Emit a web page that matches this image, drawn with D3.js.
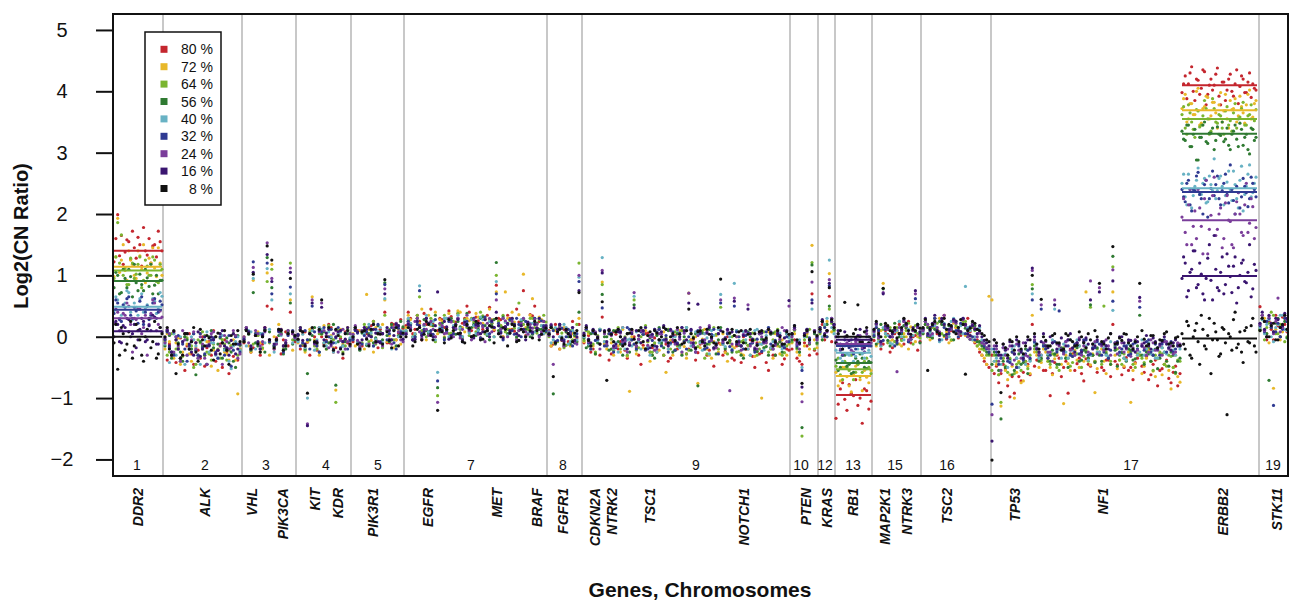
<!DOCTYPE html>
<html lang="en">
<head>
<meta charset="UTF-8">
<title>Log2(CN Ratio) by gene</title>
<script src="https://d3js.org/d3.v7.min.js"></script>
<style>
  body { margin: 0; background: #fff; }
  svg text { font-family: "Liberation Sans", Arial, sans-serif; fill: #111; }
</style>
</head>
<body>
<div id="chart"></div>
<script>

// tumour purity levels (legend order) and their colours
var purity = ["80 %", "72 %", "64 %", "56 %", "40 %", "32 %", "24 %", "16 %", "8 %"];
var colors = ["#c4262e", "#e8b82a", "#7ab530", "#2f7a32", "#68b2c4", "#2f3a92", "#7a3d9a", "#3a1570", "#111111"];

// genome axis, in bin units (0..1175)
var chromNames = ["1", "2", "3", "4", "5", "7", "8", "9", "10", "12", "13", "15", "16", "17", "19"];
var chromLabelPos = [24, 92, 153, 213, 265, 358, 450, 583, 688, 712, 740, 782, 834, 1018, 1160];
var chromBounds = [50, 129, 183, 238, 291, 434, 469, 677, 705, 722, 759, 808, 878, 1146];
var genes = ["DDR2", "ALK", "VHL", "PIK3CA", "KIT", "KDR", "PIK3R1", "EGFR", "MET", "BRAF", "FGFR1", "CDKN2A", "NTRK2",
  "TSC1", "NOTCH1", "PTEN", "KRAS", "RB1", "MAP2K1", "NTRK3", "TSC2", "TP53", "NF1", "ERBB2", "STK11"];
var genePos = [25, 92, 139, 170, 202, 225, 260, 315, 384, 424, 450, 482, 499, 537, 631, 693, 714, 740, 772, 794, 834, 902, 990, 1110, 1164];

// probe blocks: chr1, 2, 3, 4, 5, 7, 8, 9, 10, 12, 13, 15, 16, 17 (to ERBB2), 17 (ERBB2), 19
var blockSpans = [[1, 49], [52, 127], [131, 182], [185, 237], [240, 290], [293, 433], [436, 466], [471, 676],
  [679, 704], [707, 721], [723, 758], [761, 807], [810, 876], [879, 1067], [1069, 1143], [1147, 1174]];

// log2 ratio x100, one sub-array per block, probes evenly spaced inside a block
var p80 = [
  [122, 160, 199, 132, 165, 118, 138, 158, 155, 126, 172, 145, 128, 162, 150, 115, 178, 140, 133, 160, 120, 148, 150, 130, 172, 155, 140],
  [-5, -38, -12, -25, 8, -42, -20, -2, -30, -55, -15, 5, -28, -45, -10, -22, -35, 0, -48, -18, -8, -30, 10, -40, -22, -12, -50, -5, -25, -60, -15, -32, 2, -38, -20],
  [-10, 12, 6, -25, -18, 2, 3, -30, -12, 15, 50, -8, 45, -20, -2, 10, -28, -5, 8, -15, 40, 5, -8],
  [4, -20, -14, 8, -9, -30, 12, 0, -22, 15, 0, -12, -6, 20, 15, -25, -18, 5, -3, -35, 8, -10, -12],
  [-8, 15, 10, -20, -15, 8, 5, -12, 18, 25, -4, -18, 12, 5, 40, -10, -10, 22, 20, -5, 6, 28, 14],
  [18, 40, 30, 5, 12, 35, 25, -5, 38, 20, 8, 45, 20, 0, 10, 30, 28, 15, 15, 42, 33, 5, 24, 38, 5, 22, 30, 50, 40, 10, 18, 32,
    26, -2, 12, 28, 35, 48, 22, 10, 84, 30, 28, 0, 16, 35, 30, 12, 9, 45, 24, 18, 75, 2, 20, 36, 34, 50, 14, 25, 26, 5, 10],
  [10, -15, -12, 20, 5, -20, -6, 12, 14, -8, 0, 25, -10, -2, 20],
  [-10, 12, 2, -25, -20, 5, -5, -30, 32, -12, -15, -38, -28, 8, 4, -20, -8, 15, -22, -35, -12, 10, 0, -18, -30, -45, -14, 5, 6, -25,
    -18, -2, -25, 12, -6, -30, -12, -40, -35, -8, 2, -20, -16, 10, -8, -28, -20, -5, -4, -38, -26, -12, -10, 5, -30, -22, -2, -48, -18, -10,
    -12, -30, -24, 0, -6, -35, -38, -15, -14, -42, 0, -20, -20, -5, -32, -50, -10, -28, -26, -8, -42, -55, -18, -30, -30, -12, -8, -45, -36, -20,
    -22],
  [-20, -5, -35, -40, -45, -10, -15, -30, 70, -22, -28],
  [8, 20, -5, 10, 66, -8, 15],
  [-133, -110, -85, -75, -102, -120, -78, -92, -96, -70, -112, -100, -141, -85, -88, -118, -105],
  [-6, 15, 8, -20, -12, 10, 4, -25, -18, 5, 10, 20, -4, -12, 14, 25, -10, 0, 2, -22, -8],
  [12, 25, 0, 15, 18, 30, 5, -5, 22, 35, -4, 8, 10, 28, 15, -2, 2, 20, 20, 30, 8, 15, -10, -5, -25, -30, -40, -45, -50],
  [-30, -60, -48, -75, -60, -45, -52, -80, -98, -65, -92, -50, -65, -72, -58, -40, -45, -62, 20, -48, -38, -25, -30, -55, -55, -35, -96, -60, -42, -30,
    -35, -65, -50, -40, -92, -20, -28, -55, -44, -35, -60, -72, -36, -45, -48, -30, -40, -58, -25, -50, -55, -38, -38, -65, 20, -40, -46, -28, -62, -50,
    -34, -55, -50, -70, -42, -35, -30, -48, -58, -32, -70, -62, -45, -38, -80, -55, -52, -45, -38, -68, -75, -58, -48, -80, -60],
  [398, 412, 425, 388, 412, 430, 440, 400, 385, 420, 418, 395, 405, 435, 432, 378, 395, 410, 420, 402, 410, 428, 438, 392, 378, 415, 415, 385, 402, 420,
    428, 400, 392, 412, 435, 380, 408, 425, 420, 398, 398, 415, 430, 390, 412, 405, 402],
  [49, 30, 10, -5, 25, 12, -5, 35, 18, 0, 32, 20, 8]
];
var p72 = [
  [98, 130, 193, 105, 125, 150, 108, 92, 140, 125, 118, 100, 95, 140, 132, 110, 150, 88, 104, 128, 120, 145, 112, 98, 145, 120, 100],
  [-20, 5, -8, -30, -35, -10, -2, -45, -25, 5, -12, -28, -40, -5, -18, -35, 5, -20, -30, -8, -10, -48, -22, 0, -55, -15, -5, -25, -28, -38, -15, -5, -38, -93, -20],
  [0, 15, -15, -25, 92, 5, 8, -10, -20, 12, 104, -30, 118, 0, -6, 20, 12, -15, -10, 5, 60, -22, -4],
  [-10, 10, 5, -25, -8, 12, 65, -5, -15, -30, 10, 18, -20, 0, 2, -18, -87, 8, 12, -12, -5, 15, -14],
  [5, -15, -12, 10, 8, -20, 69, 12, -6, -25, 15, 5, -10, 20, 60, -8, 2, 18, -18, -5, 12, -12, 6],
  [15, 35, 28, 0, 5, 30, 22, 45, 10, -5, 35, 18, 18, 40, 5, 28, 25, 0, 12, 38, 30, 10, 20, 42, 40, 15, 8, 30, 26, 0, 16, 38,
    32, 5, 22, 30, 10, 45, 28, 12, 73, 25, 18, 0, 73, 30, 12, 40, 24, 5, 36, 20, 102, 15, 20, 35, 62, 8, 14, 32, 28, 5, 8],
  [5, -15, -10, 10, 12, -20, -4, 15, 8, -12, -15, 5, 0, -8, 30],
  [-8, 15, 5, -20, -15, -28, 0, 10, 89, -12, -20, 5, -10, -30, 8, -15, -25, 12, -5, -32, -89, 0, -12, -28, 2, -10, -18, 10, -8, -40,
    -30, -12, 4, -22, -14, 8, -58, -20, -6, -30, -22, 5, 10, -28, -16, -35, 71, -5, -10, 0, -76, -18, -4, 12, -20, -30, -35, -8, 2, -25,
    -12, 5, -26, -40, -8, -15, -18, 0, 0, -28, -30, -20, -14, 5, -6, -32, -24, -10, -100, -18, -10, 8, -20, -35, 5, -15, -28, -5, -15, -30,
    -12],
  [-10, 5, -25, -30, -93, -15, 5, -20, 149, -5, -18],
  [12, -5, 0, 25, 103, 8, 20],
  [-58, -80, -72, -50, -50, -65, -80, -90, -62, -48, -45, -70, -88, -55, -66, -75, -55],
  [4, -15, -10, 10, 87, 20, 12, -8, -5, 15, 8, -12, -15, 5, 0, -20, 16, 10, -8, 0, 6],
  [5, 20, 18, -5, -2, 15, 12, 30, 25, 0, 8, -10, -6, 22, 15, 5, 20, 28, 2, 12, 10, -5, -8, -15, -20, -30, -35, -45, 66],
  [60, -40, -45, -62, -113, -35, -55, -70, -62, -48, -100, -58, -40, -75, -72, -45, -48, -60, 35, -25, -30, -50, -42, -20, -25, -40, -50, -62, -36, -28,
    -20, -45, -109, -30, -44, -55, -30, -22, -38, -50, -22, -40, 73, -35, -46, -28, -91, -52, -28, -20, -40, -60, -34, -45, 73, -30, -52, -38, -26, -48,
    -38, -25, -107, -55, -44, -30, -30, -60, -48, -35, -22, -40, -56, -65, -36, -28, -62, -45, -40, -55, -85, -50, -30, -65, -74],
  [372, 388, 395, 350, 355, 380, 380, 362, 362, 400, 405, 345, 348, 372, 375, 392, 390, 355, 360, 382, 382, 365, 340, 378, 398, 350, 368, 395, 355, 340,
    385, 370, 372, 388, 350, 360, 392, 375, 365, 348, 378, 395, 402, 355, 358, 380, 385],
  [15, 35, 30, 5, -10, 22, -84, 12, 20, -5, 8, 30, 25]
];
var p64 = [
  [95, 130, 186, 120, 166, 100, 112, 85, 85, 128, 120, 95, 102, 118, 130, 80, 92, 125, 115, 100, 100, 130, 125, 90, 88, 118, 110],
  [-8, -30, -25, 5, 5, -20, -18, -40, -32, 0, -2, -15, -15, -50, -45, -5, -10, 8, 2, -25, -28, -38, -12, 0, -20, -35, -5, -12, -38, -22, -15, 5, 0, -30, -22],
  [-5, 10, 8, -20, -12, 5, 2, -25, -18, 10, 90, -10, 110, -15, -8, 12, 5, -20, -15, 8, 120, -5, 0],
  [2, 15, -12, -22, -5, 8, 10, -15, -20, 5, 4, -10, -8, 18, 12, -5, -107, 10, 0, -25, -15, 12, 6],
  [-4, 12, 8, -15, -10, 20, 15, -8, 2, 25, -12, 5, 6, -18, 35, 10, 12, -5, -5, 22, 18, 0, 8],
  [10, 28, 22, 0, 4, 35, 65, 10, 18, 0, 8, 30, 26, -8, -96, 20, 14, 35, 30, 5, 6, 25, 20, 38, 12, -2, 28, 15, 2, 30, 24, 8,
    16, 40, 34, 5, 10, 28, 22, 0, 100, 25, 18, 35, 8, 12, 26, 30, 14, -2, 55, 20, 20, 0, 12, 30, 30, 15, 6, 28, 18, 35, 24],
  [0, 18, 12, -10, -8, 15, 6, -18, -14, 5, 10, -5, 4, 20, 120],
  [-6, 10, 8, -15, -12, -25, 2, 12, 85, -8, -15, 5, -4, -22, 10, 15, -20, -5, 0, -30, -10, 8, 60, -22, -18, 0, 4, 18, -8, -25,
    -25, -10, 6, -5, -12, -30, -2, 12, -20, 0, 8, -15, -14, 10, -6, -28, -22, 5, 0, -10, -16, 8, 10, -35, -28, -12, -8, 15, 4, -20,
    48, -5, -18, -28, -10, 0, 2, -25, -24, -8, -6, 10, -14, -30, 6, -5, -30, -20, -12, 8, -4, -25, -20, -5, 8, 12, -16, -30, -26, -15,
    -10],
  [-8, 10, -20, -25, -162, -5, 0, 12, 121, -20, -12],
  [5, 25, 18, 0, 45, 22, 10],
  [-48, -35, -62, -70, -40, -50, -55, -30, -70, -58, -45, -65, -58, -40, -35, -50, -60],
  [8, 20, -4, -15, 12, 0, -10, 15, 5, -8, 15, 25, -6, 0, 10, 22, 0, -12, 18, 5, -2],
  [10, 25, 0, 8, 15, 30, 22, -5, 5, 18, 12, 0, -5, 28, 18, 5, 8, 25, 25, 10, 2, 15, 10, -15, -12, -20, -22, -30, -30],
  [-55, -30, -40, -62, -107, -35, -48, -58, -35, -25, -60, -45, -42, -55, -30, -40, -52, -30, 85, -20, -25, -35, -38, -15, -20, -40, -45, -28, -30, -50,
    -55, -20, -18, -35, -35, -48, -42, -25, -28, -15, -50, -32, -22, -40, 48, -30, -40, -20, -26, -45, 50, -25, -32, -40, 114, -15, -20, -38, -45, -28,
    -38, -20, -25, -45, -50, -28, -30, -35, -42, -22, -18, -40, -55, -30, -35, -25, -28, -45, -48, -30, -32, -50, -60, -38, -40],
  [362, 375, 340, 330, 378, 365, 350, 338, 325, 370, 368, 342, 345, 360, 385, 372, 355, 330, 335, 388, 372, 350, 348, 362, 360, 340, 330, 368, 375, 345,
    352, 335, 365, 380, 340, 355, 358, 372, 382, 345, 345, 360, 362, 378, 338, 352, 370],
  [10, 28, -5, 15, 22, 40, 35, 5, 5, 20, 18, -8, 0]
];
var p56 = [
  [80, 105, 100, 70, 72, 110, 95, 80, 110, 98, 65, 118, 88, 75, 102, 85, 75, 110, 96, 82, 118, 70, 84, 100, 70, 92, 92],
  [-15, 8, 2, -35, -28, -5, -10, -25, -40, 0, -5, -20, -20, 5, -62, -30, -8, -15, -30, -45, 0, 10, -18, -28, -12, -2, -35, -20, -2, -10, -25, -40, -50, 2, -14],
  [-8, 12, 4, -22, 72, -10, -15, 5, 0, -25, 129, 8, 80, -15, -10, 2, 6, -28, -20, 10, 55, -12, -5],
  [-6, 12, 8, -20, -60, -5, 2, 15, -12, -25, 5, 8, -20, -10, -2, 20, -79, -8, 10, -15, -8, 5, -4],
  [0, 15, -10, -22, 6, 10, -14, 5, 10, -10, -2, 18, 8, -5, 88, 2, -8, 20, 12, -15, 2, 25, 16],
  [8, 25, 20, -5, 0, 30, 15, 5, 28, 10, 5, 22, 18, 35, -83, 8, 22, -2, 10, 30, 30, 15, 4, 25, 16, 0, 26, 38, 8, 15, 20, 2,
    12, 30, 32, 18, 2, -5, 18, 28, 121, 10, 14, 32, 24, 5, 6, 22, 20, 0, 10, 25, 28, 12, 16, 0, 4, 30, 22, 12, 12, 25, 8],
  [4, 15, -93, -12, 10, 18, -5, -15, 8, 0, -12, 10, 2, -8, 40],
  [-2, -18, -15, 5, 6, -28, -10, 12, 69, 0, 0, -22, -20, 10, 8, -8, -12, -30, -4, 5, -25, -5, 52, -15, -8, 12, 4, -20, -18, -2,
    -30, -35, 2, 15, -10, -18, -6, 10, 10, -25, -22, 5, -14, -30, 0, 15, -8, -22, -16, 5, -80, -8, 6, -20, -12, 12, -2, -18, -28, -5,
    15, -12, -20, 5, -6, -25, 2, 10, -14, -30, -35, -10, 8, 0, -10, -22, -24, 5, -4, -18, -16, -30, 4, 6, -30, -12, -8, -25, -18, 5,
    0],
  [-5, 12, -18, -25, -148, 0, 8, -12, 117, 5, -10],
  [15, -5, 2, 20, 50, 25, 12],
  [-38, -55, -50, -30, -30, -48, -45, -60, -58, -35, -40, -28, -35, -50, -52, -40, -42],
  [0, -12, 12, 20, 78, 5, -6, -15, 10, 22, -12, 0, 5, 18, 15, -8, -4, 10, 8, 20, -10],
  [5, 20, 15, 0, -2, 12, 10, 25, 20, 2, 0, 18, 12, -5, 25, 15, 6, 20, 14, 0, -4, 22, 18, -8, -8, -15, -18, -25, -28],
  [-45, -25, -30, -55, -134, -40, -50, -30, -38, -62, -55, -35, -28, -45, -42, -20, -60, -38, 78, -15, -20, -40, -35, -12, -15, -30, -40, -22, -28, -45,
    -45, -18, -22, -35, -50, -28, -32, -15, -18, -40, -38, -22, -25, -35, 52, -30, -42, -18, -30, -40, -20, -28, -35, -45, 131, -22, -48, -30, -26, -35,
    -40, -20, -22, -38, -36, -15, 35, -30, -45, -25, -28, -40, -30, -20, -52, -35, -18, -25, -40, -48, -25, -30, -58, -40, -35],
  [335, 322, 320, 345, 345, 310, 310, 330, 338, 288, 288, 325, 325, 345, 350, 318, 315, 332, 332, 340, 305, 320, 342, 330, 328, 350, 318, 322, 340, 312,
    305, 330, 335, 345, 322, 310, 348, 338, 312, 325, 330, 305, 298, 340, 338, 320, 325],
  [12, 30, 25, 5, -71, 15, 8, 22, 30, 0, 15, 25, -2]
];
var p40 = [
  [42, 65, 60, 30, 35, 50, 55, 75, 72, 40, 28, 55, 48, 35, 62, 70, 40, 45, 52, 30, 30, 62, 58, 38, 45, 72, 66],
  [-12, 10, -42, -25, 5, -30, -20, 0, -8, -45, -30, -15, 0, -5, -15, -35, -45, -20, -5, 8, -25, -10, -10, -30, -35, 5, 2, -22, -18, -40, -52, -15, -8, 0, -22],
  [-4, -15, 10, 8, 95, -20, -12, 5, 5, -10, 111, 12, 60, -25, -8, 10, 2, -22, -15, 5, 70, -10, -2],
  [-8, 12, 4, -18, -100, 5, 10, -22, -5, 15, 12, -10, -15, 8, 0, -25, -10, 5, 8, -15, -20, 10, -2],
  [2, 15, -8, -20, 10, 5, -12, 20, 6, -15, -4, 8, 15, -10, 62, 12, -6, -20, 10, 18, 0, 10, 8],
  [10, 30, 22, 0, 5, 25, 83, 2, 18, 35, 8, 20, 25, -5, -58, 15, 12, 30, 30, 0, 2, 18, 20, 35, 14, 0, 26, 20, 6, 28, 18, 5,
    10, 32, 28, 8, 4, 25, 16, 0, 90, 18, 12, 30, 24, 2, 8, 28, 20, 5, 14, 28, 30, 0, 6, 22, 22, 8, 10, 30, 18, 5, 12],
  [8, -10, -5, 15, 12, 0, 0, 20, 15, -12, -8, 10, 5, -5, 97],
  [0, 15, -12, -20, 8, 5, -6, 12, 129, -8, -15, 10, 4, -20, -10, -25, 10, 15, -20, -5, -4, -15, 66, 8, -8, -20, 6, 15, -16, -30,
    2, 12, -25, -10, -6, 15, 12, -20, -12, 0, 0, 10, -18, -25, 6, 15, -8, -15, -14, 8, 4, -10, -22, 5, -2, -28, 10, 2, -10, 12,
    69, -12, -16, 5, 0, -20, 87, 10, -6, -15, 8, -5, -20, -30, -4, 10, 12, -12, -12, -22, 2, 15, -18, -8, -8, 10, 6, -20, -14, 5,
    -2],
  [2, 15, -12, -5, -50, 0, 10, -8, 45, 8, -5],
  [10, 0, 20, 30, 125, 15, 5],
  [-22, -12, -35, -40, -15, -28, -30, -15, -40, -32, -20, -10, -28, -35, -12, -22, -32],
  [5, 18, -8, -15, 15, 5, 2, -10, -12, 8, 10, 25, 0, -5, 18, 12, -5, 2, 55, 20, 8],
  [8, 25, 20, 5, 2, 18, 15, -8, -5, 22, 12, 0, 25, 30, 6, 12, 18, 5, 82, 15, 10, -5, 0, 12, 15, -5, -10, -18, -20],
  [-20, -40, -35, -25, -45, -30, -28, -50, -40, -20, -15, -35, -50, -25, -32, -45, -22, -40, 70, -10, -18, -35, -30, -15, -8, -28, -25, -5, 45, -22,
    -20, -35, -12, -25, -35, -5, -22, -30, -5, -15, -28, -10, -15, -38, -30, -18, -10, -25, -25, -12, -18, -30, -32, -8, 43, -15, -12, -28, -20, -35,
    -38, -12, -15, -22, -8, -30, -25, -5, -30, -20, -10, -28, -22, -35, -35, -15, -18, -25, -28, -12, -12, -22, -30, -15, -20],
  [250, 265, 228, 215, 265, 240, 210, 230, 245, 255, 275, 232, 232, 250, 258, 218, 220, 262, 248, 238, 290, 225, 238, 258, 262, 245, 215, 230, 252, 270,
    240, 222, 270, 248, 225, 210, 255, 278, 205, 232, 245, 265, 280, 228, 235, 250, 260],
  [15, 28, 5, 20, 28, 0, -8, 15, 20, 35, 35, 12, 10]
];
var p32 = [
  [38, 60, 55, 28, 25, 52, 48, 62, 65, 35, 30, 48, 42, 22, 58, 65, 20, 40, 50, 28, 35, 55, 62, 30, 40, 58, 52],
  [-5, 8, -18, -25, -30, 0, 2, -35, -12, -20, -40, -15, -8, 5, -22, -30, 5, -18, -28, -45, -15, -5, -2, -25, -35, 0, -10, -30, -20, 2, -48, -22, 0, -12, -25],
  [-2, 15, 8, -18, 122, 5, -10, -20, 4, 12, 120, -8, 70, -15, -6, 8, 10, -25, -12, 2, 81, 10, 2],
  [4, -15, -10, 10, -5, -20, 50, 8, -15, -25, 8, 15, -8, 0, 12, -10, -2, 15, -18, -8, 6, -20, -6],
  [-5, 10, 6, -18, -12, 2, 8, 15, 0, -15, 12, 20, -8, 5, 85, -5, 5, 15, -10, -20, 14, 8, 4],
  [6, 25, 18, -5, 0, 20, 75, 5, 12, 30, 22, 10, 4, 28, -72, 12, 16, -5, 8, 25, 26, 5, 12, 30, 2, -8, 20, 25, 14, 0, 30, 18,
    6, -2, 18, 32, 10, 5, 24, 15, 70, 22, 8, -5, 16, 20, 28, 10, 4, 30, 20, 0, 12, 25, 22, 8, 6, 30, 14, 2, 26, 18, 10],
  [5, 15, 10, -8, -6, 20, 14, -5, 0, 12, 8, -15, -10, 5, 90],
  [2, 12, -10, -20, 8, -6, -4, 10, 47, -15, -14, 5, 6, -25, -18, 10, 0, -12, -8, 15, 12, -5, -12, -20, -4, 8, 4, -22, -20, 2,
    -6, -15, 8, 12, -15, -5, 2, -25, -10, 8, -22, -10, 6, 15, -8, -20, 0, 10, -14, -25, 10, 5, -6, -20, -18, -8, 4, 12, -12, -28,
    55, -10, -2, 5, -16, -22, 50, 8, 0, -15, -20, 2, 6, -12, -10, -25, -4, 5, -24, -10, 8, 15, -12, -20, -6, 2, 2, -15, -18, 0,
    -8],
  [5, 18, -15, -10, -55, 5, 12, -2, 60, 10, -2],
  [8, 25, 15, 0, 83, 30, 20],
  [-10, 0, -22, -30, -5, -12, -18, -5, -28, -20, -12, 0, -20, -25, 0, -10, -15],
  [2, 15, 10, -8, -6, 12, 15, 0, 0, -15, -10, 5, 8, 25, 20, -8, -4, 10, 62, 15, 5],
  [12, 25, 2, 10, 18, 30, 8, -5, 25, 15, -2, 5, 15, 28, 10, 0, 22, 30, 5, 12, 16, 0, -5, 12, 8, -10, -15, -20, -25],
  [-110, -20, -25, -45, -35, -18, -18, -40, -42, -25, -28, -50, -15, -22, -38, -28, -22, -35, 60, -8, -12, -30, 45, -15, -20, -35, -30, -10, -8, -25,
    42, -20, -25, -8, -15, -30, -32, -12, -10, -28, -22, -5, -5, -30, -28, -18, -18, -8, -12, -30, -25, -15, -35, -22, 58, -10, -8, -25, -20, -15,
    -15, -30, -28, -12, -10, -20, 48, -15, -22, -8, -5, -25, -30, -12, -18, -30, -12, -5, -25, -18, -8, -25, -20, -12, -15],
  [240, 228, 220, 250, 255, 215, 205, 240, 238, 262, 268, 232, 225, 200, 248, 255, 195, 225, 242, 270, 230, 248, 262, 225, 215, 238, 250, 265, 232, 218,
    280, 240, 222, 200, 245, 235, 210, 228, 258, 245, 235, 212, 225, 260, 250, 240, 228],
  [18, 35, 8, 25, 30, 15, -112, 8, 22, 0, 12, 30, 25]
];
var p24 = [
  [22, 45, 40, 10, 10, 38, 35, 55, 50, 20, -25, 30, 28, 45, 45, 5, 15, 35, -30, 20, 38, 60, 55, 10, 20, 42, 32],
  [-10, 12, 5, -30, -25, 0, -15, -40, 10, -5, -30, -20, -5, 8, -20, -35, 0, -12, -35, -45, -12, 5, 8, -28, -22, -15, -45, 2, -8, -20, -18, 10, 2, -35, -28],
  [0, 15, -10, -20, 113, 10, 5, -15, -8, 8, 153, -5, 95, -20, -12, 12, 4, -15, -6, 10, 112, 5, -2],
  [-4, 12, 8, -15, -142, 5, 60, -12, -10, 8, 55, 10, 2, -18, -15, 5, 10, -25, -6, 12, -20, -8, 5],
  [4, 18, -6, -15, 10, 15, -2, -12, 12, 20, -10, 5, 6, -15, 78, 10, -4, -12, 15, 22, 8, -5, -8],
  [5, 22, 15, -5, 25, 30, 8, -2, 20, 12, 2, 25, 12, 0, -107, 22, 18, 5, 6, 30, 24, 0, 14, 30, -2, 12, 20, 35, 10, -5, 28, 15,
    4, 22, 16, -8, 22, 30, 8, 15, 60, 5, 12, 30, 26, 0, 6, 25, 18, -5, 10, 22, 30, 8, 4, 20, 14, 28, 20, 0, 8, 25, 16],
  [2, 20, -45, -10, 8, 15, -4, -15, 12, 5, 5, 15, -8, -12, 100],
  [4, 15, -8, -15, 10, 8, -2, -20, 108, 5, -12, 10, 2, -18, -16, 12, 6, -8, -6, -25, -10, 8, 72, -15, -4, 10, 8, -20, -14, 0,
    0, -22, -20, 5, 4, 15, -8, -12, 10, -5, -12, 12, -4, -25, 6, 10, 71, -10, -16, -25, 2, 15, -10, -5, 8, 18, -6, -20, -18, 5,
    60, -8, -2, 10, -88, -12, 63, 0, -12, -22, 4, 8, 52, -15, -8, -18, -20, 5, 0, -10, -10, 12, 6, -20, -14, 8, -4, 15, 10, -8,
    50],
  [0, 12, -12, -20, -106, 2, 8, -10, 89, 10, -5],
  [12, 25, 0, 8, 93, 30, 18],
  [-8, 5, -20, -28, 0, -10, -15, -22, -25, -8, -5, 2, -18, -25, 5, -15, -10],
  [8, 20, -2, -12, 72, 15, 12, 0, 0, 10, -57, 15, 10, 25, 18, -5, -4, 10, 70, 15, 2],
  [10, 25, 20, 2, 5, 22, 15, 8, 28, 35, 0, 10, 12, 25, 22, 5, 8, 28, 18, 0, -4, 20, 14, 0, 6, -10, -12, -18, -20],
  [-127, -15, -20, -40, -55, -18, -30, -20, -15, -45, -38, -12, -22, -35, -10, -30, -32, -18, 108, -5, -18, -28, 52, -10, -8, -25, -25, -40, 60, -12,
    -15, -20, -28, -8, -5, -22, -20, -30, -12, -2, -30, -15, -18, -25, 91, -12, -8, -28, 80, -15, -22, -5, -15, -30, 109, -10, -28, -18, -10, -25,
    -20, -8, -32, -18, -5, -22, 58, -12, -18, -30, -25, -5, -10, -22, -22, -15, -30, -8, -8, -20, -15, -28, -25, -10, -12],
  [195, 225, 170, 150, 215, 240, 150, 180, 205, 160, 240, 210, 180, 135, 225, 255, 135, 175, 198, 230, 260, 165, 175, 200, 210, 145, 160, 218, 230, 190,
    188, 150, 145, 200, 220, 235, 200, 170, 165, 215, 250, 170, 185, 225, 212, 160, 178],
  [20, 35, 10, 0, 32, 18, 5, 25, 63, 8, 15, 35, 28]
];
var p16 = [
  [0, 25, 20, -8, -10, 18, 15, 30, 28, 0, 5, 20, -18, -5, 12, 30, 25, -8, -5, 18, 10, 35, 32, -12, -12, 15, 8],
  [-2, 10, -15, -25, 8, -5, -20, -35, -8, 5, 5, -12, -25, -30, -10, 8, -32, -20, 0, -15, -14, 0, -5, -28, -22, 5, 10, -15, -18, -30, -6, 5, -28, -20, -12],
  [-5, 12, 8, -15, 105, 2, -8, -20, 2, 15, 134, -5, 90, -12, -4, 10, 12, -15, -10, 5, 105, 8, 0],
  [2, 15, -6, -12, -145, 5, 55, -10, -8, 10, 48, -5, 6, 12, -12, -20, 0, 8, 10, -8, -4, 15, -15],
  [-2, 12, 8, -10, -5, 15, 12, 2, 0, 12, 6, -8, -10, 5, 70, 15, 10, -5, 2, 20, 18, 5, -4],
  [4, 20, 12, -5, -4, 25, 18, 2, 8, 30, 22, 5, 0, 18, 73, 10, 10, 25, 16, -4, 2, 15, 20, 28, 6, -5, 24, 18, 12, 0, -2, 20,
    18, 5, 8, 28, 14, 0, 26, 15, 40, 18, 6, -2, 16, 22, 10, 30, 20, 5, 2, 18, 12, -5, 24, 15, 8, 20, 14, 30, 4, 15, 18],
  [6, 18, 0, -10, 12, 20, -5, -8, 10, 5, 2, 15, -6, 0, 75],
  [6, 18, -4, -10, 12, 5, 0, -12, 104, 10, -8, 12, 4, -15, -12, 8, 8, -5, -2, -20, -14, 5, 47, 10, 2, -10, 10, 15, -6, -18,
    4, 12, -16, -5, 8, 18, -4, -15, 12, 2, -8, -12, 0, 15, 10, -5, 55, 12, -10, -20, 53, 8, -6, -10, 6, 15, -2, -18, -14, 5,
    10, -5, -4, 12, 6, 8, 58, -12, -8, -15, 2, 10, 45, 5, -4, -20, -12, 8, 6, -8, -6, 12, 8, -15, -10, 5, 2, -12, -2, 10,
    59],
  [4, 15, -8, -12, -82, 5, 12, -5, 55, 8, 0],
  [15, 28, 5, 10, 87, 25, 20],
  [0, 10, -12, -20, 8, 0, -6, -15, -15, -2, 2, 12, -10, -18, 10, 0, -4],
  [10, 22, 2, -8, 70, 18, 15, 0, 5, 12, -6, 5, 12, 28, 20, 5, 0, 15, 75, 18, 8],
  [14, 30, 5, 15, 22, 35, 10, 2, 30, 20, 4, 12, 16, 28, 25, 10, 8, 30, 20, 5, 2, 18, 12, 5, 18, 0, -6, -10, -15],
  [-170, -5, -15, -30, -30, -12, -22, -35, -8, -15, -28, -5, -12, -25, -35, -10, -5, -20, 112, 0, -20, -25, -8, 5, -15, -18, 0, -10, 52, -20,
    -12, -2, -22, -15, -5, 5, -18, -25, -10, -5, -25, -8, -2, -12, 60, -20, -15, -5, 73, -12, -8, -15, -20, 5, 91, -18, -12, 0, 0, -10,
    -18, -5, -6, -22, -25, -8, 64, -15, -10, 2, -15, -20, -2, -8, -20, -12, -8, 0, -12, -18, -22, -10, -5, -15, -15],
  [95, 130, 120, 65, 75, 105, 110, 140, 140, 80, 85, 120, 102, 70, 60, 95, 128, 150, 92, 60, 165, 110, 80, 75, 105, 130, 70, 85, 135, 115,
    98, 72, 115, 130, 55, 80, 100, 120, 125, 90, 88, 105, 150, 65, 78, 118, 108],
  [22, 40, 12, 0, 35, 22, 8, 30, 28, 15, 18, 38, 30]
];
var p8 = [
  [-10, 20, -53, -30, 15, 5, -22, -12, 8, 25, -35, -15, 20, 10, -5, -30, -40, 0, 12, 30, -18, -8, 25, -35, -28, 15, 5],
  [0, 15, -20, -30, 10, -60, -12, -35, -30, 5, 5, -20, -8, 15, -25, -40, 12, -5, -15, 2, -2, -22, -38, 0, 6, -28, -10, 10, -22, -45, 2, -12, -12, 10, -8],
  [-8, 10, 5, -20, 102, 2, -12, -25, 0, 10, 148, -5, 125, -18, -5, 12, 10, -22, -15, 5, 95, 8, 2],
  [-4, 10, 8, -15, -92, 5, 15, -8, -10, 12, 60, -15, 0, 15, -8, -22, 12, 2, -20, -28, 5, 10, -12],
  [0, 15, -12, -20, 8, 10, -4, -15, 12, 20, -8, 5, 4, -12, 93, 8, -6, -18, 10, 15, -15, 0, 6],
  [0, 15, 10, -15, -8, 12, 15, -5, 4, 25, 20, 2, -5, 10, -120, 12, 8, -10, 12, 28, -2, 10, 18, 5, 6, -8, -10, 20, 14, 0, 2, 25,
    22, -5, -4, 8, 10, 18, 16, -10, 30, 5, 0, 15, 12, -15, 6, 20, 18, -8, -6, 12, 8, 0, 20, 10, -2, 25, 10, -5, 4, 10, 14],
  [4, 15, -65, -10, 8, 12, -2, -12, 12, 5, 0, -8, 6, 10, 72],
  [2, 15, -6, -15, 10, 5, -2, -12, 57, 8, -71, 10, 4, -8, 8, 12, 0, -15, -12, 5, 6, 12, -4, -10, 10, 15, -8, -20, 2, 8,
    -14, 10, 6, -5, 0, 15, 12, -10, 0, 5, -6, 15, 4, -12, -10, 10, 45, 5, -2, -18, 8, 10, -8, -15, 12, 4, 0, -10, -12, 15,
    94, 8, -4, -10, 6, 12, 2, -8, 8, 10, -10, -20, 4, 12, -6, 5, -14, 8, 10, -5, -2, 12, 6, -15, -8, 10, 0, -12, -12, 8,
    4],
  [5, 18, -5, -10, -76, 2, 10, -5, 106, 8, 2],
  [12, 25, 2, 10, 80, 28, 15],
  [-10, 5, 10, -20, 56, 2, -15, -12, 5, 12, 52, -8, -8, 8, 15, -10, -5],
  [12, 25, 5, 0, 79, 22, 18, 10, 8, 15, -2, 5, 15, 30, 22, 10, 4, 12, 10, 20, 14],
  [15, 28, -55, 12, 20, 25, 8, 5, 25, 30, 12, 20, 18, 8, 5, 15, 28, 20, -61, 10, 14, 25, 22, 12, 10, 5, 2, -5, -8],
  [-201, -5, -10, -25, -91, -12, -18, -30, -5, -8, -22, 0, -8, -20, -28, -15, 0, -5, 100, 5, -12, -20, 61, 0, -6, -15, -15, 2, 5, -10,
    -10, -22, -20, 5, 2, -5, -8, -15, -14, 8, 0, -10, -18, 5, -5, -12, 10, 0, 87, -8, -12, -20, -2, 5, 147, -12, -10, -2, -6, 5,
    4, -10, -15, -20, -8, 0, 87, 10, -4, -15, -12, 2, 2, -10, -18, -5, -6, 5, 8, -12, -10, -15, -2, 0, -14],
  [5, -12, -20, 25, 18, -30, -35, 0, 10, 22, -8, -45, 35, 12, -15, -20, 2, 30, -60, -5, 22, 8, -5, -32, -28, 15, 12, -10, -127, 5,
    0, -22, 28, 40, -18, -12, 8, -25, -42, 10, 15, -8, -10, 18, 30, -15, -25],
  [10, 30, 25, 0, 0, 18, 22, -5, -5, 15, 20, 35, 12]
];

// segment means (x100) for the altered regions, same order as purity
var segSpans = [[0, 49], [723, 758], [1069, 1144]];
var segDDR2 = [140, 114, 108, 91, 49, 44, 30, 9, 0];
var segRB1 = [-95, -64, -53, -43, -26, -15, -12, -5, 0];
var segERBB2 = [410, 369, 355, 331, 242, 236, 190, 99, -3];

var series = [p80, p72, p64, p56, p40, p32, p24, p16, p8];
var segments = [segDDR2, segRB1, segERBB2];

var margin = {top: 14, right: 3, bottom: 125, left: 113},
    width = 1291 - margin.left - margin.right,
    height = 601 - margin.top - margin.bottom;

var svg = d3.select("#chart")
  .append("svg")
  .attr("width", 1291)
  .attr("height", 601)
  .append("g")
  .attr("transform", "translate(" + margin.left + "," + margin.top + ")");

var x = d3.scaleLinear().domain([0, 1175]).range([0, width]);
var y = d3.scaleLinear().domain([-2.27, 5.26]).range([height, 0]);

// chromosome separators
svg.selectAll(".sep")
  .data(chromBounds)
  .enter()
  .append("line")
  .attr("x1", d => x(d)).attr("x2", d => x(d))
  .attr("y1", 0).attr("y2", height)
  .attr("stroke", "#c8c8c8")
  .attr("stroke-width", 2);

// points, one layer per purity level (8 % drawn last)
series.forEach(function(blocks, s) {
  var pts = [];
  blocks.forEach(function(vals, b) {
    var span = blockSpans[b];
    vals.forEach(function(v, i) {
      var pos = span[0] + (span[1] - span[0]) * i / (vals.length - 1);
      pts.push({pos: pos, v: v / 100});
    });
  });
  svg.append("g")
    .selectAll("circle")
    .data(pts)
    .enter()
    .append("circle")
    .attr("cx", d => x(d.pos))
    .attr("cy", d => y(d.v))
    .attr("r", 1.6)
    .attr("fill", colors[s]);
});

// segment lines
segments.forEach(function(levels, k) {
  var span = segSpans[k];
  svg.append("g")
    .selectAll("line")
    .data(levels)
    .enter()
    .append("line")
    .attr("x1", x(span[0])).attr("x2", x(span[1]))
    .attr("y1", d => y(d / 100)).attr("y2", d => y(d / 100))
    .attr("stroke", (d, i) => colors[i])
    .attr("stroke-width", 2);
});

// chromosome numbers
svg.selectAll(".chr")
  .data(chromNames)
  .enter()
  .append("text")
  .attr("x", (d, i) => x(chromLabelPos[i]))
  .attr("y", height - 6)
  .attr("text-anchor", "middle")
  .style("font-size", "14px")
  .text(d => d);

// box
svg.append("rect")
  .attr("x", 0).attr("y", 0)
  .attr("width", width).attr("height", height)
  .attr("fill", "none")
  .attr("stroke", "#111")
  .attr("stroke-width", 2);

// Y axis
var yAxis = svg.append("g")
  .call(d3.axisLeft(y).tickValues(d3.range(-2, 6)).tickSize(17).tickSizeOuter(0).tickFormat(d3.format("d")));
yAxis.select(".domain").remove();
yAxis.selectAll(".tick line").attr("stroke", "#111").attr("stroke-width", 2);
yAxis.selectAll(".tick text")
  .attr("x", -51)
  .attr("text-anchor", "middle")
  .style("font-size", "20px")
  .style("font-family", "'Liberation Sans', Arial, sans-serif")
  .attr("fill", "#111");

// gene labels
svg.selectAll(".gene")
  .data(genes)
  .enter()
  .append("text")
  .attr("transform", (d, i) => "translate(" + x(genePos[i]) + "," + (height + 12) + ") rotate(-90)")
  .attr("text-anchor", "end")
  .attr("dominant-baseline", "central")
  .style("font-size", "14px")
  .style("font-weight", "bold")
  .style("font-style", "italic")
  .text(d => d);

// axis titles
svg.append("text")
  .attr("transform", "translate(" + (28 - margin.left) + "," + (236 - margin.top) + ") rotate(-90)")
  .attr("text-anchor", "middle")
  .style("font-size", "20px")
  .style("font-weight", "bold")
  .text("Log2(CN Ratio)");

svg.append("text")
  .attr("x", 700 - margin.left)
  .attr("y", 597 - margin.top)
  .attr("text-anchor", "middle")
  .style("font-size", "21px")
  .style("font-weight", "bold")
  .text("Genes, Chromosomes");

// legend
var legend = svg.append("g").attr("transform", "translate(32,18)");
legend.append("rect")
  .attr("width", 76).attr("height", 173)
  .attr("fill", "#fff")
  .attr("stroke", "#111")
  .attr("stroke-width", 1.5);
var items = legend.selectAll(".item")
  .data(purity)
  .enter()
  .append("g")
  .attr("transform", (d, i) => "translate(0," + (17.3 + i * 17.4) + ")");
items.append("rect")
  .attr("x", 15.5).attr("y", -3.5)
  .attr("width", 7).attr("height", 7)
  .attr("fill", (d, i) => colors[i]);
items.append("text")
  .attr("x", 68)
  .attr("text-anchor", "end")
  .attr("dominant-baseline", "central")
  .style("font-size", "14px")
  .text(d => d);

</script>
</body>
</html>
